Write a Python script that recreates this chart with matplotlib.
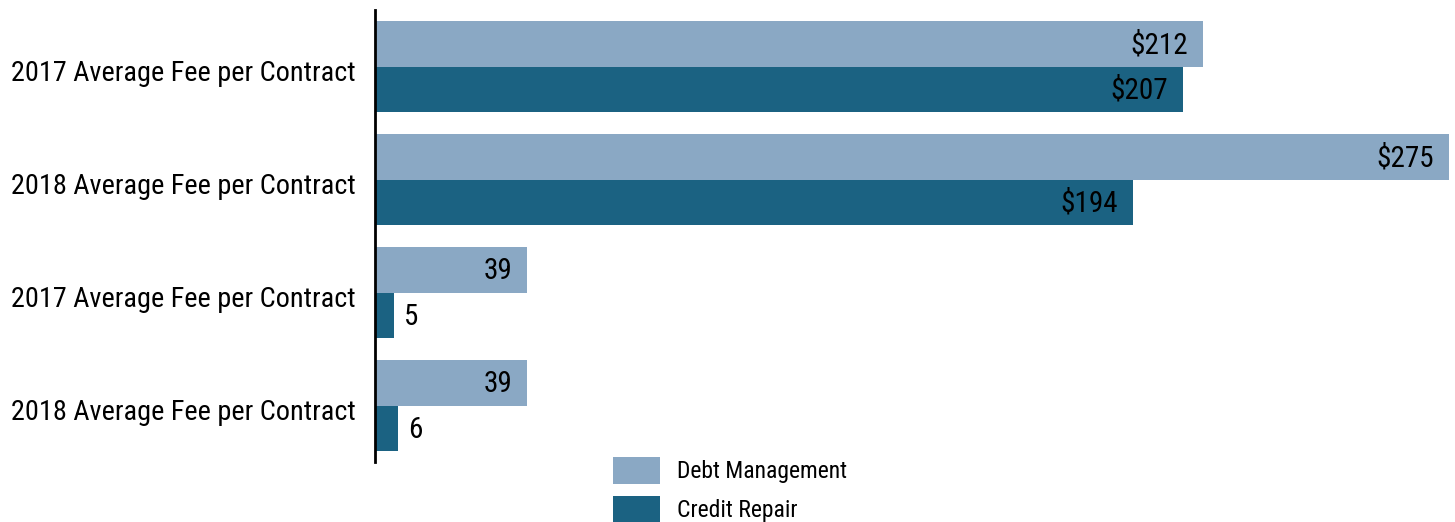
import matplotlib.pyplot as plt
import matplotlib.transforms as mtransforms
from matplotlib import font_manager
import numpy as np

categories = ['2017 Average Fee per Contract', '2018 Average Fee per Contract',
              '2017 Average Fee per Contract', '2018 Average Fee per Contract']
debt_management = [212, 275, 39, 39]
credit_repair = [207, 194, 5, 6]
dollar_rows = [True, True, False, False]

names = {f.name for f in font_manager.fontManager.ttflist}
fams = [f for f in ['Roboto Condensed', 'Liberation Sans Narrow', 'Roboto', 'DejaVu Sans'] if f in names]
plt.rcParams['font.family'] = fams

light = '#8aa8c4'
dark = '#1b6282'

fig = plt.figure(figsize=(14.55, 5.22), dpi=100)
ax = fig.add_axes([0.2577, 0.1149, 0.7382, 0.8659])

y = np.arange(len(categories))
h = 0.4
b1 = ax.barh(y - h / 2, debt_management, height=h, color=light, label='Debt Management')
b2 = ax.barh(y + h / 2, credit_repair, height=h, color=dark, label='Credit Repair')

def fmt(v, dollar):
    return ('$%d' % v) if dollar else str(v)

for bars, vals in [(b1, debt_management), (b2, credit_repair)]:
    for bar, v, d in zip(bars, vals, dollar_rows):
        cy = bar.get_y() + bar.get_height() / 2
        if v > 20:
            ax.annotate(fmt(v, d), (v, cy), xytext=(-11, -1), textcoords='offset points',
                        ha='right', va='center', fontsize=21, color='black')
        else:
            ax.annotate(fmt(v, d), (v, cy), xytext=(7, -1), textcoords='offset points',
                        ha='left', va='center', fontsize=21, color='black')

ax.set_xlim(0, 275)
ax.set_ylim(3.5, -0.5)
ax.set_yticks(y)
ax.set_yticklabels(categories, fontsize=20.3)
ax.tick_params(axis='y', length=0, pad=14)
shift = mtransforms.ScaledTranslation(0, -3 / 72, fig.dpi_scale_trans)
for t in ax.get_yticklabels():
    t.set_transform(t.get_transform() + shift)
ax.set_xticks([])
for s in ['top', 'right', 'bottom']:
    ax.spines[s].set_visible(False)
ax.spines['left'].set_linewidth(2)

fig.legend(loc='upper left', bbox_to_anchor=(613 / 1455, 1 - 457 / 522), frameon=False,
           fontsize=17, handlelength=2.0, handleheight=1.38, labelspacing=0.5,
           handletextpad=0.7, borderpad=0, borderaxespad=0)

fig.savefig('out.png', dpi=100)
